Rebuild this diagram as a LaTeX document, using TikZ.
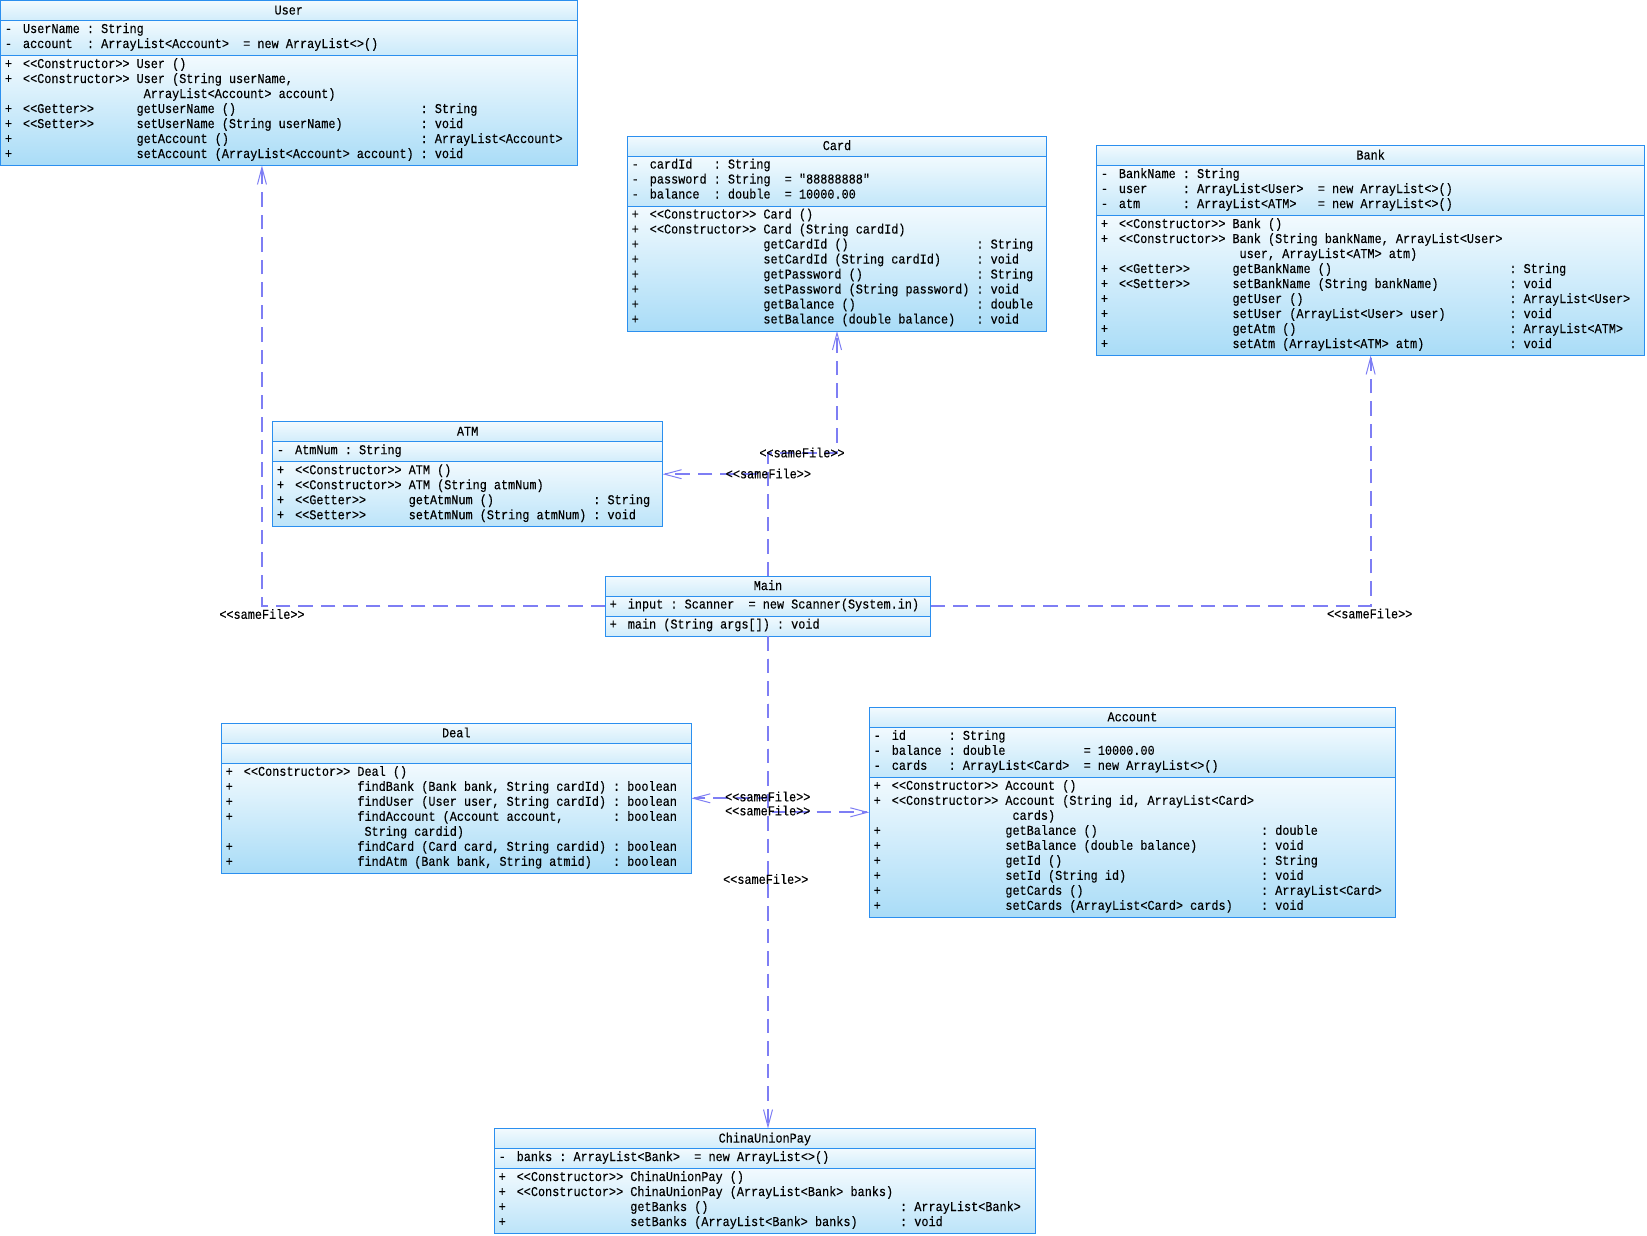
\documentclass[tikz,border=0pt]{standalone}
\usepackage{fontspec}
\usetikzlibrary{calc,arrows.meta}
\newfontfamily\umlfont{Liberation Mono}[FakeStretch=0.877,FakeBold=0.2]
\definecolor{bordc}{HTML}{2B8FEF}
\definecolor{shtop}{HTML}{F2FAFE}
\definecolor{shbot}{HTML}{A9DCF7}
\definecolor{depc}{HTML}{7E7EF4}
\newcount\tcnt
\newcommand\st[1]{<\kern0pt<#1>\kern0pt>}
\newcommand\newname{\global\advance\tcnt by 1 }
% shaded compartment: x, y, w, h
\newcommand\compart[4]{%
  \pgfmathsetmacro\pp{min(100,32+0.65*#4)}%
  \shade[comp, bottom color=shbot!\pp!shtop] (#1,#2) rectangle ++(#3,#4);
}
% #1 name #2 x #3 y #4 w #5 attr height #6 meth height #7 title #8 colon column
\newcommand\umlclass[8]{%
  \pgfmathsetmacro\hh{20+#5+#6}%
  \expandafter\xdef\csname cah#1\endcsname{#5}%
  \expandafter\xdef\csname ccol#1\endcsname{#8}%
  \node[cbox, minimum width=#4pt, minimum height=\hh pt, anchor=north west] (#1) at (#2,#3) {};
  \compart{#2}{#3}{#4}{20}
  \compart{#2}{#3+20}{#4}{#5}
  \compart{#2}{#3+20+#5}{#4}{#6}
  \draw[bord] (#2,#3) rectangle ++(#4,\hh);
  \draw[bord] (#2,#3+20) -- ++(#4,0);
  \draw[bord] (#2,#3+20+#5) -- ++(#4,0);
  \newname\node[txt, anchor=base] (t\the\tcnt) at ($(#1.north)+(0,14)$) {#7};
}
% attribute line: box, k, text
\newcommand\AL[3]{%
  \newname\node[txt, anchor=base] (t\the\tcnt) at ($(#1.north west)+(8,{32.5+15*#2})$) {-};
  \newname\node[txt] (t\the\tcnt) at ($(#1.north west)+(22.3,{32.5+15*#2})$) {#3};
}
% method line: box, k, stereotype, signature, return
\newcommand\ML[5]{%
  \newname\node[txt, anchor=base] (t\the\tcnt) at ($(#1.north west)+(8,{32.5+\csname cah#1\endcsname+15*#2})$) {+};
  \if\relax\detokenize{#3}\relax\else
  \newname\node[txt] (t\the\tcnt) at ($(#1.north west)+(22.3,{32.5+\csname cah#1\endcsname+15*#2})$) {#3};\fi
  \newname\node[txt] (t\the\tcnt) at ($(#1.north west)+({22.3+7.1*16},{32.5+\csname cah#1\endcsname+15*#2})$) {#4};
  \if\relax\detokenize{#5}\relax\else
  \newname\node[txt] (t\the\tcnt) at ($(#1.north west)+({22.3+7.1*\csname ccol#1\endcsname},{32.5+\csname cah#1\endcsname+15*#2})$) {:~#5};\fi
}
% wrapped continuation line at column 17
\newcommand\WL[3]{%
  \newname\node[txt] (t\the\tcnt) at ($(#1.north west)+({22.3+7.1*17},{32.5+\csname cah#1\endcsname+15*#2})$) {#3};
}
\begin{document}
\begin{tikzpicture}[x=1pt,y=-1pt,
  cbox/.style={inner sep=0pt, outer sep=0pt, draw=none},
  comp/.style={top color=shtop, shading angle=12},
  bord/.style={draw=bordc, line width=1pt},
  txt/.style={font=\umlfont\fontsize{13.5}{15}\selectfont, inner sep=0pt, anchor=base west, text=black},
  lbl/.style={font=\umlfont\fontsize{13.5}{15}\selectfont, inner sep=0pt, text=black},
  dep/.style={draw=depc, line width=2pt, dash pattern=on 14.5pt off 8pt,
    -{Straight Barb[length=17pt,width=9pt,line width=1pt]}}]
\useasboundingbox (0,0) rectangle (1647,1235);
\fill[white] (0,0) rectangle (1647,1235);

% ---------- User
\umlclass{user}{0.5}{0.5}{576.5}{35}{110}{User}{56}
\AL{user}{0}{UserName~:~String}
\AL{user}{1}{account~~:~ArrayList<Account>~~=~new~ArrayList<>()}
\ML{user}{0}{\st{Constructor}}{User~()}{}
\ML{user}{1}{\st{Constructor}}{User~(String~userName,}{}
\WL{user}{2}{ArrayList<Account>~account)}
\ML{user}{3}{\st{Getter}}{getUserName~()}{String}
\ML{user}{4}{\st{Setter}}{setUserName~(String~userName)}{void}
\ML{user}{5}{}{getAccount~()}{ArrayList<Account>}
\ML{user}{6}{}{setAccount~(ArrayList<Account>~account)}{void}

% ---------- Card
\umlclass{card}{627.3}{136}{419.4}{50}{125}{Card}{46}
\AL{card}{0}{cardId~~~:~String}
\AL{card}{1}{password~:~String~~=~"88888888"}
\AL{card}{2}{balance~~:~double~~=~10000.00}
\ML{card}{0}{\st{Constructor}}{Card~()}{}
\ML{card}{1}{\st{Constructor}}{Card~(String~cardId)}{}
\ML{card}{2}{}{getCardId~()}{String}
\ML{card}{3}{}{setCardId~(String~cardId)}{void}
\ML{card}{4}{}{getPassword~()}{String}
\ML{card}{5}{}{setPassword~(String~password)}{void}
\ML{card}{6}{}{getBalance~()}{double}
\ML{card}{7}{}{setBalance~(double~balance)}{void}

% ---------- Bank
\umlclass{bank}{1096.4}{145.5}{548.5}{50}{140}{Bank}{55}
\AL{bank}{0}{BankName~:~String}
\AL{bank}{1}{user~~~~~:~ArrayList<User>~~=~new~ArrayList<>()}
\AL{bank}{2}{atm~~~~~~:~ArrayList<ATM>~~~=~new~ArrayList<>()}
\ML{bank}{0}{\st{Constructor}}{Bank~()}{}
\ML{bank}{1}{\st{Constructor}}{Bank~(String~bankName,~ArrayList<User>}{}
\WL{bank}{2}{user,~ArrayList<ATM>~atm)}
\ML{bank}{3}{\st{Getter}}{getBankName~()}{String}
\ML{bank}{4}{\st{Setter}}{setBankName~(String~bankName)}{void}
\ML{bank}{5}{}{getUser~()}{ArrayList<User>}
\ML{bank}{6}{}{setUser~(ArrayList<User>~user)}{void}
\ML{bank}{7}{}{getAtm~()}{ArrayList<ATM>}
\ML{bank}{8}{}{setAtm~(ArrayList<ATM>~atm)}{void}

% ---------- ATM
\umlclass{atm}{272.6}{421.7}{390}{20}{65}{ATM}{42}
\AL{atm}{0}{AtmNum~:~String}
\ML{atm}{0}{\st{Constructor}}{ATM~()}{}
\ML{atm}{1}{\st{Constructor}}{ATM~(String~atmNum)}{}
\ML{atm}{2}{\st{Getter}}{getAtmNum~()}{String}
\ML{atm}{3}{\st{Setter}}{setAtmNum~(String~atmNum)}{void}

% ---------- Main
\umlclass{main}{605.3}{576}{325.4}{20}{20}{Main}{21}
\newname\node[txt, anchor=base] (t\the\tcnt) at ($(main.north west)+(8,32.5)$) {+};
\newname\node[txt] (t\the\tcnt) at ($(main.north west)+(22.3,32.5)$) {input~:~Scanner~~=~new~Scanner(System.in)};
\newname\node[txt, anchor=base] (t\the\tcnt) at ($(main.north west)+(8,52.5)$) {+};
\newname\node[txt] (t\the\tcnt) at ($(main.north west)+(22.3,52.5)$) {main~(String~args[])~:~void};

% ---------- Deal
\umlclass{deal}{221.3}{723.3}{470}{20}{110}{Deal}{52}
\ML{deal}{0}{\st{Constructor}}{Deal~()}{}
\ML{deal}{1}{}{findBank~(Bank~bank,~String~cardId)}{boolean}
\ML{deal}{2}{}{findUser~(User~user,~String~cardId)}{boolean}
\ML{deal}{3}{}{findAccount~(Account~account,}{boolean}
\WL{deal}{4}{String~cardid)}
\ML{deal}{5}{}{findCard~(Card~card,~String~cardid)}{boolean}
\ML{deal}{6}{}{findAtm~(Bank~bank,~String~atmid)}{boolean}

% ---------- Account
\umlclass{account}{869.3}{707.3}{526.2}{50}{140}{Account}{52}
\AL{account}{0}{id~~~~~~:~String}
\AL{account}{1}{balance~:~double~~~~~~~~~~~=~10000.00}
\AL{account}{2}{cards~~~:~ArrayList<Card>~~=~new~ArrayList<>()}
\ML{account}{0}{\st{Constructor}}{Account~()}{}
\ML{account}{1}{\st{Constructor}}{Account~(String~id,~ArrayList<Card>}{}
\WL{account}{2}{cards)}
\ML{account}{3}{}{getBalance~()}{double}
\ML{account}{4}{}{setBalance~(double~balance)}{void}
\ML{account}{5}{}{getId~()}{String}
\ML{account}{6}{}{setId~(String~id)}{void}
\ML{account}{7}{}{getCards~()}{ArrayList<Card>}
\ML{account}{8}{}{setCards~(ArrayList<Card>~cards)}{void}

% ---------- ChinaUnionPay
\umlclass{cup}{494.2}{1128.5}{541.2}{20}{65}{ChinaUnionPay}{54}
\AL{cup}{0}{banks~:~ArrayList<Bank>~~=~new~ArrayList<>()}
\ML{cup}{0}{\st{Constructor}}{ChinaUnionPay~()}{}
\ML{cup}{1}{\st{Constructor}}{ChinaUnionPay~(ArrayList<Bank>~banks)}{}
\ML{cup}{2}{}{getBanks~()}{ArrayList<Bank>}
\ML{cup}{3}{}{setBanks~(ArrayList<Bank>~banks)}{void}

% ---------- dependencies
\coordinate (cb) at (768,452.5);
\draw[dep] (main.west) -| ([xshift=-26.8pt]user.south);
\draw[dep] (main.north) -- (main.north |- cb) -| (card.south);
\draw[dep] (main.north) |- (atm.east);
\draw[dep] (main.east) -| (bank.south);
\draw[dep] (main.south) |- (deal.east);
\draw[dep] (main.south) |- (account.west);
\draw[dep] (main.south) -- (main.south |- cup.north);

\node[lbl] (l1) at (262,614) {\st{sameFile}};
\node[lbl] (l2) at (802,452.5) {\st{sameFile}};
\node[lbl] (l3) at (768.4,473.5) {\st{sameFile}};
\node[lbl] (l4) at (1369.7,613.5) {\st{sameFile}};
\node[lbl] (l5) at (767.8,796.5) {\st{sameFile}};
\node[lbl] (l6) at (767.8,810.5) {\st{sameFile}};
\node[lbl] (l7) at (765.8,879) {\st{sameFile}};
\end{tikzpicture}
\end{document}
